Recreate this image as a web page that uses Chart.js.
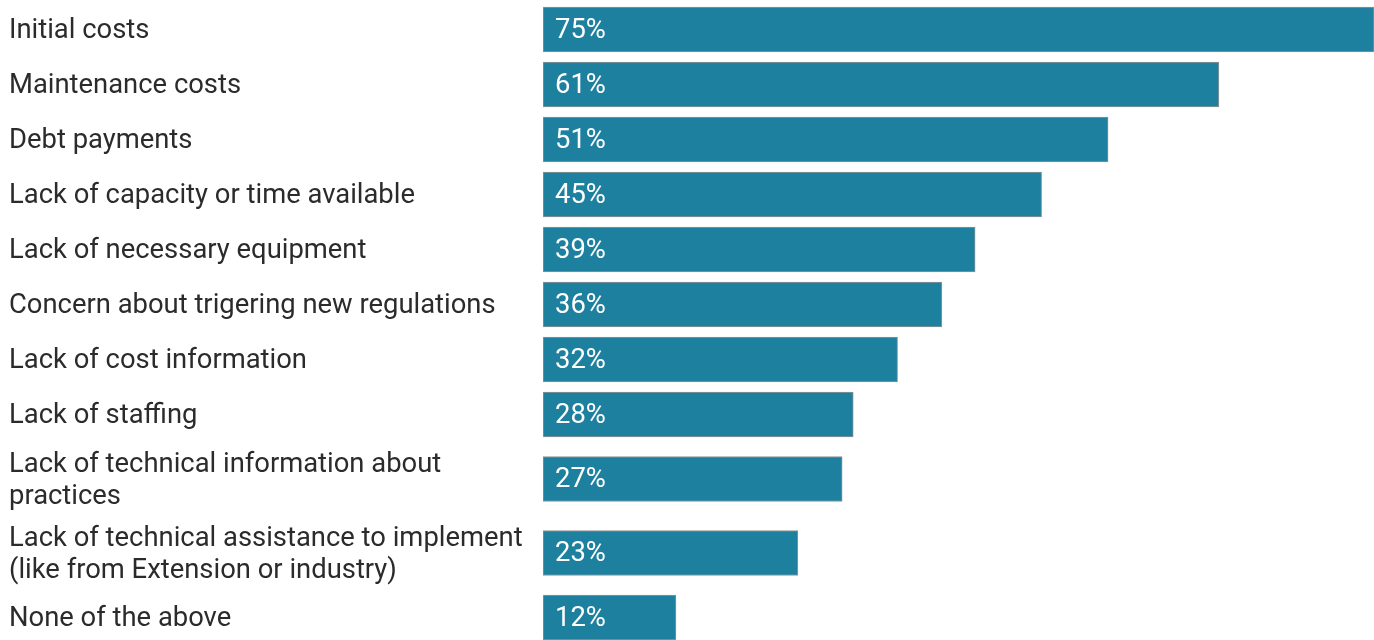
<!DOCTYPE html>
<html>
<head>
<meta charset="utf-8">
<script src="https://cdn.jsdelivr.net/npm/chart.js@4"></script>
<style>
  html, body { margin: 0; padding: 0; background: #fff; }
  #wrap { width: 1374px; height: 640px; }
</style>
</head>
<body>
<div id="wrap"><canvas id="barChart"></canvas></div>
<script>
const categories = [
  ["Initial costs"],
  ["Maintenance costs"],
  ["Debt payments"],
  ["Lack of capacity or time available"],
  ["Lack of necessary equipment"],
  ["Concern about trigering new regulations"],
  ["Lack of cost information"],
  ["Lack of staffing"],
  ["Lack of technical information about", "practices"],
  ["Lack of technical assistance to implement", "(like from Extension or industry)"],
  ["None of the above"]
];
const values = [75, 61, 51, 45, 39, 36, 32, 28, 27, 23, 12];

document.addEventListener('DOMContentLoaded', () => {
  // row layout: each row is as tall as its label or bar, plus a gap
  const barH = 45, lineH = 32, gap = 10, topPad = 2;
  const rowCenters = [];
  let top = topPad;
  categories.forEach(lines => {
    const h = Math.max(barH, lines.length * lineH) + gap;
    rowCenters.push(top + h / 2);
    top += h;
  });

  // category labels on the left and value labels inside the bars
  const labels = {
    id: 'labels',
    afterDatasetsDraw(chart) {
      const ctx = chart.ctx;
      const yScale = chart.scales.y;
      const meta = chart.getDatasetMeta(0);
      ctx.save();
      ctx.font = '27.4px Roboto';
      ctx.textAlign = 'left';
      ctx.textBaseline = 'middle';

      ctx.fillStyle = '#2b2b2b';
      categories.forEach((lines, i) => {
        const cy = yScale.getPixelForValue(rowCenters[i]);
        const y0 = cy - (lines.length - 1) * lineH / 2;
        lines.forEach((line, j) => ctx.fillText(line, 9, y0 + j * lineH + 2));
      });

      ctx.fillStyle = '#ffffff';
      meta.data.forEach((bar, i) => {
        ctx.fillText(values[i] + '%', bar.base + 12, bar.y + 1.5);
      });
      ctx.restore();
    }
  };

  new Chart(document.getElementById('barChart').getContext('2d'), {
    type: 'bar',
    data: {
      datasets: [{
        data: values.map((v, i) => ({ x: v, y: rowCenters[i] })),
        backgroundColor: '#1e809f',
        borderColor: 'rgba(120,120,120,0.8)',
        borderWidth: 1,
        borderSkipped: false,
        barThickness: barH
      }]
    },
    options: {
      indexAxis: 'y',
      responsive: true,
      maintainAspectRatio: false,
      animation: false,
      layout: { padding: 0 },
      scales: {
        x: {
          display: false,
          min: 0,
          max: Math.max(...values)
        },
        y: {
          type: 'linear',
          reverse: true,
          offset: false,
          min: 0,
          max: 640,
          grid: { display: false },
          border: { display: false },
          ticks: { display: false },
          afterFit: axis => { axis.width = 543; }
        }
      },
      plugins: {
        legend: { display: false },
        tooltip: { enabled: false }
      }
    },
    plugins: [labels]
  });
});
</script>
</body>
</html>
